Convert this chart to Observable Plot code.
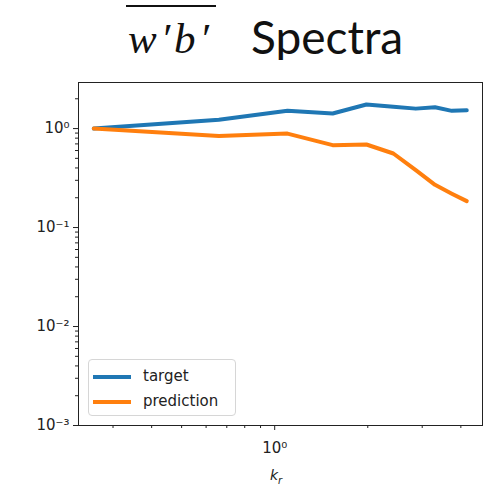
<!DOCTYPE html>
<html>
<head>
<meta charset="utf-8">
<script src="https://cdn.jsdelivr.net/npm/d3@7"></script>
<script src="https://cdn.jsdelivr.net/npm/@observablehq/plot@0.6"></script>
<style>
  html, body { margin: 0; padding: 0; background: #fff; }
  #wrap { position: relative; width: 487px; height: 489px; overflow: hidden; background: #fff; }
  #title { position: absolute; left: 0; top: 0; width: 487px; height: 60px; }
  #math { position: absolute; left: 126px; top: 5px; font-family: "Liberation Serif", serif; font-style: italic; font-size: 43px; line-height: 64px; border-top: 2px solid #111; padding: 0 3px 0 2px; letter-spacing: 4px; color: #111; white-space: nowrap; }
  #spectra { position: absolute; left: 251px; top: 9px; font-family: "Lato", "Noto Sans", sans-serif; font-size: 46px; line-height: 56px; color: #111; }
  #chart { position: absolute; left: 0; top: 60px; }
  #legend { position: absolute; left: 88px; top: 359px; width: 146px; height: 55px; border: 1px solid #d6d6d6; border-radius: 4px; background: rgba(255,255,255,0.85); font-family: "DejaVu Sans", sans-serif; font-size: 15px; color: #222; }
  .item { position: absolute; left: 4px; height: 20px; }
  .sw { position: absolute; left: 0; top: 8px; width: 38px; height: 4px; }
  .lab { position: absolute; left: 50px; top: 0; line-height: 18px; white-space: nowrap; }
  #xlabel { position: absolute; left: 270px; top: 467px; font-family: "DejaVu Sans", sans-serif; font-style: italic; font-size: 14px; color: #222; }
  #xlabel sub { font-size: 10px; }
</style>
</head>
<body>
<div id="wrap">
  <div id="title"><span id="math">w′b′</span><span id="spectra">Spectra</span></div>
  <div id="chart"></div>
  <div id="legend"></div>
  <div id="xlabel">k<sub>r</sub></div>
</div>
<script>
// Data
const k = [0.26, 0.66, 1.10, 1.54, 1.98, 2.42, 2.86, 3.30, 3.74, 4.18];
const target = [1.00, 1.23, 1.51, 1.42, 1.75, 1.66, 1.59, 1.64, 1.51, 1.53];
const prediction = [1.00, 0.84, 0.89, 0.68, 0.69, 0.56, 0.38, 0.27, 0.22, 0.185];
const seriesNames = ["target", "prediction"];
const seriesColors = ["#1f77b4", "#ff7f0e"];

// Ticks
const xMajor = [1];
const xMinor = [0.3, 0.4, 0.5, 0.6, 0.7, 0.8, 0.9, 2, 3, 4];
const yMajor = [1e-3, 1e-2, 1e-1, 1];
const yMinorMult = [2, 3, 4, 5, 6, 7, 8, 9];
const yMinorDecades = [1e-3, 1e-2, 1e-1, 1];

const yMinor = [];
for (const d of yMinorDecades) for (const m of yMinorMult) { const v = d * m; if (v <= 2.92) yMinor.push(v); }

const supMap = {"-": "⁻", "0": "⁰", "1": "¹", "2": "²", "3": "³", "4": "⁴"};
const fmt = d => "10" + String(Math.round(Math.log10(d))).replace(/./g, c => supMap[c]);

const rowsT = k.map((kk, i) => ({k: kk, v: target[i]}));
const rowsP = k.map((kk, i) => ({k: kk, v: prediction[i]}));

const chart = Plot.plot({
  width: 487,
  height: 429,
  marginTop: 22,
  marginBottom: 64,
  marginLeft: 78,
  marginRight: 5,
  x: {type: "log", domain: [0.232, 4.70]},
  y: {type: "log", domain: [0.001, 2.92]},
  style: {fontFamily: "DejaVu Sans", fontSize: "14px", color: "#222", background: "white"},
  marks: [
    Plot.axisX({ticks: xMinor, tickSize: 3, tickFormat: () => "", label: null}),
    Plot.axisX({ticks: xMajor, tickSize: 5, tickPadding: 12, tickFormat: fmt, label: null, fontSize: 15}),
    Plot.axisY({ticks: yMinor, tickSize: 3, tickFormat: () => "", label: null}),
    Plot.axisY({ticks: yMajor, tickSize: 5, tickPadding: 4, tickFormat: fmt, label: null, fontSize: 15}),
    Plot.line(rowsT, {x: "k", y: "v", stroke: seriesColors[0], strokeWidth: 4}),
    Plot.line(rowsP, {x: "k", y: "v", stroke: seriesColors[1], strokeWidth: 4}),
    Plot.frame({stroke: "#222", strokeWidth: 1})
  ]
});
document.getElementById("chart").appendChild(chart);

const legend = document.getElementById("legend");
seriesNames.forEach((name, i) => {
  const it = document.createElement("div");
  it.className = "item";
  it.style.top = (7 + i * 25) + "px";
  it.innerHTML = `<div class="sw" style="background:${seriesColors[i]}"></div><div class="lab">${name}</div>`;
  legend.appendChild(it);
});
</script>
</body>
</html>
